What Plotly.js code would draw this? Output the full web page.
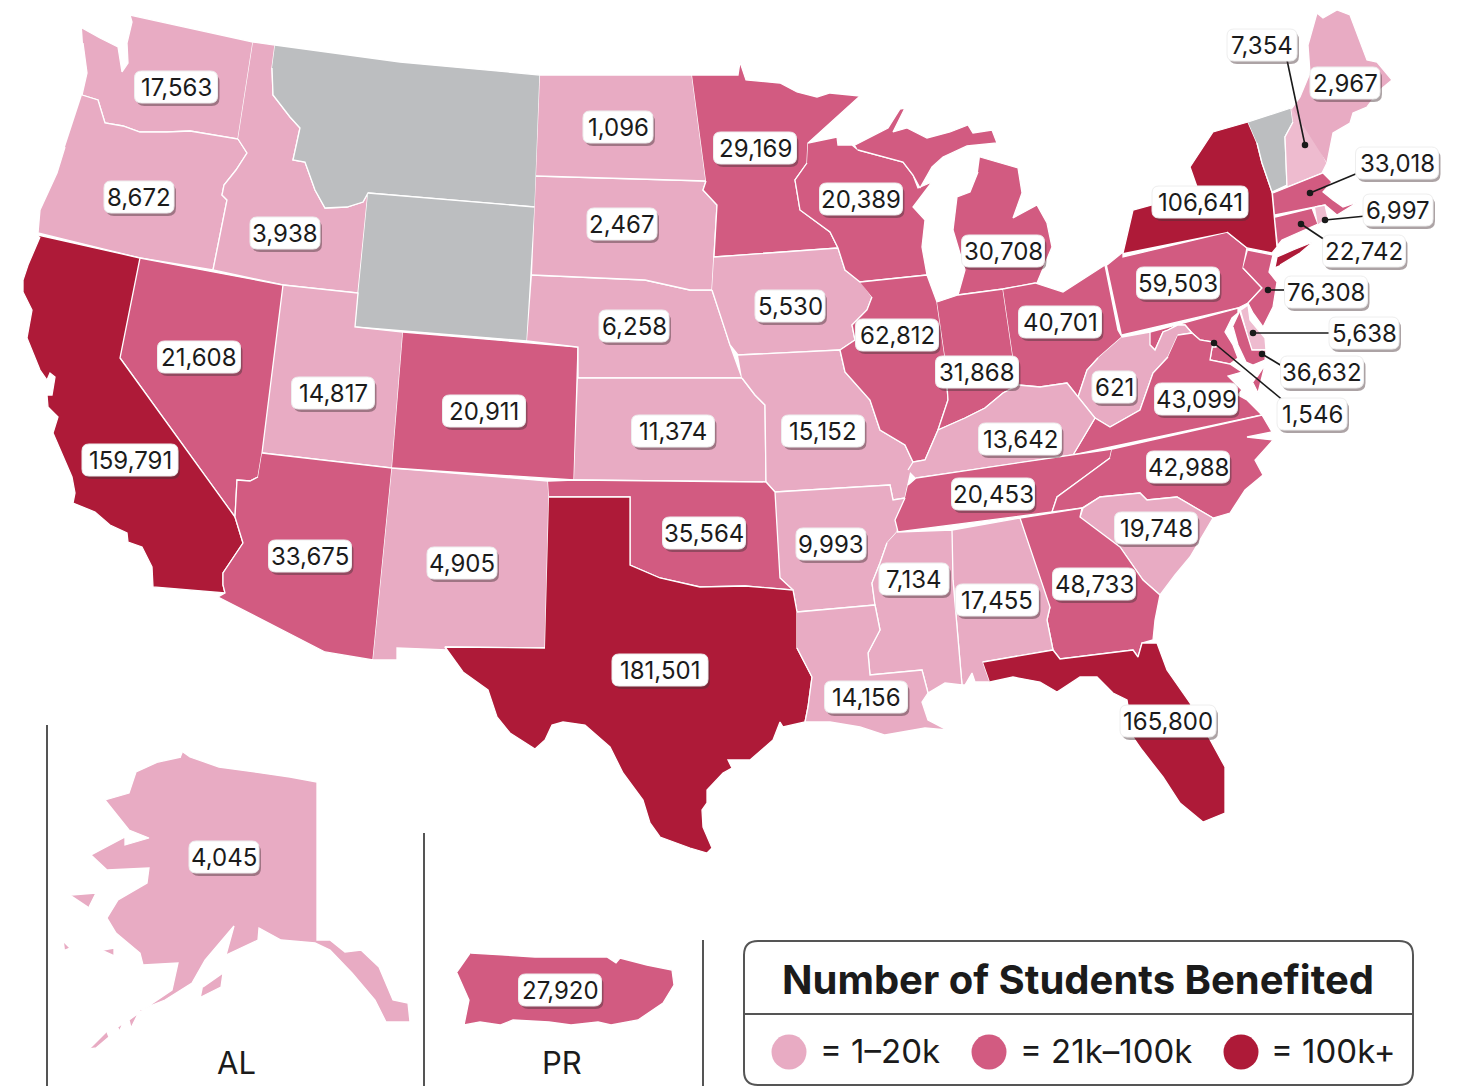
<!DOCTYPE html>
<html><head><meta charset="utf-8">
<script src="https://cdn.plot.ly/plotly-3.0.1.min.js"></script>
<style>html,body{margin:0;padding:0;background:#fff}#chart{width:1457px;height:1086px}</style>
</head><body><div id="chart"></div>
<script>
// ---------- data ----------
const stateCodes = ["WA","OR","ID","MT","WY","UT","NV","CA","AZ","NM","CO","NE","KS","SD","ND","MN","IA","MO","AR","OK","TX","WI","MI","IL","IN","OH","PA","NY","VT","NH","ME","MA","CT","RI","NJ","DE","MD","DC","WV","VA","KY","TN","NC","SC","GA","AL","MS","LA","FL","AK","PR"];
const students = [17563,8672,3938,null,null,14817,21608,159791,33675,4905,20911,6258,11374,2467,1096,29169,5530,15152,9993,35564,181501,20389,30708,62812,31868,40701,59503,106641,null,7354,2967,33018,22742,6997,76308,5638,36632,1546,621,43099,13642,20453,42988,19748,48733,17455,7134,14156,165800,4045,27920];
const labelX = [176,139,285,null,null,333,199,130,310,462,484,634,673,622,618,755,790,823,831,704,660,861,1003,897,977,1060,1178,1200,null,1262,1345,1397,1364,1398,1326,1364,1322,1312,1114,1196,1020,993,1188,1156,1094,997,914,866,1168,224,560];
const labelY = [87,197,233,null,null,393,357,460,556,563,411,326,431,224,127,148,306,431,544,533,670,199,251,335,372,322,283,202,null,45,83,163,251,210,292,333,372,414,387,399,439,494,467,528,584,600,579,697,721,857,990];
const paleStates = ["NH","DE","RI","DC"];
const leaderStates = ["NH","MA","RI","CT","NJ","DE","MD","DC"];
const leaderDotX = [1305,1310,1325,1301,1268,1253,1262,1214];
const leaderDotY = [145,193,220,224,290,333,354,343];
const leaderEndX = [1287,1358,1366,1325,1290,1330,1282,1285];
const leaderEndY = [60,173,216,240,290,333,366,402];
const tierColors = {none:"#bcbec0", pale:"#eebbcf", low:"#e8abc3", mid:"#d25b81", high:"#ae1a38"};
const legendTitle = "Number of Students Benefited";
const legendLabels = ["= 1–20k","= 21k–100k","= 100k+"];
const insetNames = ["AL","PR"];

// ---------- outlines (x,y pairs; null separates islands) ----------
const outlineWA=[82,28,100,38,118,47,122,72,128,63,127,43,132,22,130,15,253,42,238,139,190,131,167,132,140,132,123,126,105,123,98,100,82,95,87,73,83,43];
const outlineOR=[82,95,98,100,105,123,123,126,140,132,167,132,190,131,238,139,247,153,236,170,224,185,222,195,227,200,213,270,140,258,38,233,40,210,57,173,65,147];
const outlineID=[253,42,275,45,272,68,273,95,290,117,300,128,293,160,305,162,315,190,325,208,347,207,363,202,368,193,358,293,283,285,213,270,227,200,222,195,224,185,236,170,247,153,238,139];
const outlineMT=[275,45,400,62,540,75,535,207,368,193,363,202,347,207,325,208,315,190,305,162,293,160,300,128,290,117,273,95,272,68];
const outlineWY=[368,193,535,207,527,341,355,327];
const outlineUT=[283,285,358,293,355,327,403,332,392,468,262,453];
const outlineNV=[140,258,283,285,262,453,258,477,250,481,237,480,235,517,120,358];
const outlineCA=[38,235,140,258,120,358,235,517,243,543,223,573,223,585,225,593,153,587,152,567,142,547,128,542,127,533,110,525,95,512,73,503,75,493,72,477,53,433,58,417,48,407,47,395,52,395,55,377,50,373,47,380,40,370,27,338,32,310,23,292,23,280,28,265,40,237];
const outlineAZ=[262,453,392,468,373,660,325,652,218,597,225,593,223,585,223,573,243,543,235,517,237,480,250,481,258,477];
const outlineNM=[392,468,548,481,549,497,545,648,445,647,447,650,397,648,397,660,373,660];
const outlineCO=[403,332,578,347,574,480,392,468];
const outlineNE=[532,275,645,280,690,290,712,290,722,320,730,345,742,378,578,378,578,347,527,341];
const outlineKS=[578,378,742,378,755,395,765,405,766,482,574,480];
const outlineSD=[536,176,706,181,703,190,717,205,714,255,712,290,690,290,645,280,532,275];
const outlineND=[540,75,692,75,706,181,536,176];
const outlineMN=[692,75,738,75,740,62,746,80,780,83,797,92,817,97,830,93,860,96,837,117,808,143,807,163,795,180,800,210,830,232,838,248,714,257,717,205,703,190,706,181];
const outlineIA=[714,257,838,248,845,270,860,280,872,297,867,310,852,325,855,340,840,350,738,355,730,345,722,320,712,290];
const outlineMO=[738,355,840,350,845,372,870,400,880,430,905,445,913,462,905,498,893,500,890,485,775,492,766,482,765,405,755,395,742,378];
const outlineAR=[775,492,890,485,893,500,905,498,897,532,887,543,880,563,872,583,875,605,797,612,793,590,780,578];
const outlineOK=[548,481,574,480,766,482,775,492,780,578,793,590,745,586,700,587,660,578,630,565,630,497,549,497];
const outlineTX=[549,497,630,497,630,565,660,578,700,587,745,586,793,590,797,612,797,648,812,677,808,707,805,722,783,727,780,722,773,740,750,760,728,760,732,768,723,773,707,790,707,803,702,810,703,827,712,848,707,853,690,848,660,837,650,823,643,800,623,773,610,747,585,725,563,722,552,725,545,740,535,749,510,733,497,717,488,690,463,672,445,647,545,648];
const outlineWI=[808,143,837,137,838,145,852,145,858,150,903,162,913,175,918,188,932,182,913,207,925,220,922,247,927,275,860,282,845,270,838,248,830,232,800,210,795,180,807,163];
const outlineMI=[855,145,888,128,900,109,905,108,893,132,907,128,927,138,950,132,968,125,973,133,992,130,997,143,967,146,943,157,932,167,920,188,913,175,903,162,858,150,null,980,157,1018,168,1022,193,1013,218,1037,205,1047,223,1052,247,1037,283,1003,289,958,295,965,270,953,230,957,197,970,192,978,172];
const outlineIL=[860,282,927,275,937,302,945,357,948,400,938,430,925,460,913,462,905,445,880,430,870,400,845,372,840,350,855,340,852,325,867,310,872,297];
const outlineIN=[937,302,958,295,1003,289,1013,357,1018,385,1003,393,985,408,965,418,938,430,948,400,945,357];
const outlineOH=[1003,289,1035,283,1063,292,1105,265,1118,330,1122,337,1098,358,1087,370,1078,397,1067,383,1040,387,1018,385,1013,357];
const outlinePA=[1107,265,1123,252,1123,257,1227,232,1247,248,1243,268,1262,288,1248,303,1238,308,1122,335];
const outlineNY=[1123,253,1133,210,1152,205,1197,187,1190,167,1213,132,1248,122,1257,143,1262,163,1272,192,1277,247,1272,253,1247,248,1227,232,null,1275,267,1277,257,1293,250,1313,242,1300,253,1280,265];
const outlineVT=[1248,122,1291,108,1293,122,1285,137,1287,185,1272,192,1262,163,1257,143];
const outlineNH=[1291,108,1300,110,1327,163,1322,173,1287,187,1285,137,1293,122];
const outlineME=[1292,108,1300,97,1310,73,1308,45,1317,13,1323,18,1337,10,1350,15,1367,60,1377,62,1392,80,1380,90,1367,107,1353,113,1350,123,1333,133,1327,163];
const outlineMA=[1273,193,1323,173,1332,182,1323,192,1333,200,1343,207,1358,202,1343,211,1337,215,1325,205,1315,207,1275,215];
const outlineCT=[1275,217,1312,208,1318,224,1282,240,1278,245];
const outlineRI=[1315,207,1325,205,1328,218,1318,225];
const outlineNJ=[1248,250,1273,255,1269,272,1277,282,1273,307,1263,327,1253,313,1248,303,1262,288,1243,268];
const outlineDE=[1241,310,1248,305,1250,320,1265,338,1266,350,1252,350];
const outlineMD=[1150,332,1238,308,1238,313,1232,318,1225,332,1233,345,1238,358,1230,364,1210,360,1213,342,1200,340,1192,333,1185,325,1178,325,1168,330,1163,332,1155,350,1150,345,null,1240,312,1252,350,1266,350,1265,360,1253,365,1246,362,1238,345,1233,327];
const outlineDC=[1211,342,1216,342,1216,347,1211,347];
const outlineWV=[1122,337,1150,332,1150,345,1155,350,1163,332,1168,330,1178,325,1185,325,1192,333,1178,335,1168,357,1153,373,1140,410,1110,427,1095,418,1078,397,1087,370,1098,358];
const outlineVA=[1178,335,1192,333,1200,340,1213,342,1210,360,1230,364,1242,372,1228,376,1242,390,1238,395,1247,400,1262,415,1073,455,1095,418,1110,427,1140,410,1153,373,1168,357,null,1257,377,1265,365,1258,393,1253,383];
const outlineKY=[916,478,1073,455,1095,418,1078,397,1067,383,1040,387,1018,385,1003,393,985,408,965,418,938,430,925,460,913,462,908,470];
const outlineTN=[908,485,916,478,1112,449,1110,458,1083,478,1057,497,1052,512,898,532,895,520,905,498];
const outlineNC=[1112,449,1262,415,1272,432,1247,437,1273,440,1255,460,1263,475,1245,490,1230,513,1213,518,1177,497,1147,500,1140,493,1100,497,1082,508,1052,512,1057,497,1083,478,1110,458];
const outlineSC=[1080,517,1083,508,1100,497,1140,493,1147,500,1177,497,1213,518,1190,557,1175,575,1160,595,1143,580,1120,547];
const outlineGA=[1020,518,1052,513,1082,508,1080,517,1120,547,1143,580,1160,595,1155,620,1153,640,1142,643,1138,657,1133,650,1060,659,1053,650,1047,620,1050,607];
const outlineAL=[952,530,1020,518,1050,607,1047,620,1053,650,983,662,990,682,975,682,972,673,965,685,962,685,953,580];
const outlineMS=[897,532,952,530,953,580,962,685,945,683,928,693,922,670,870,675,868,653,880,630,875,605,872,583,880,563,887,543];
const outlineLA=[797,612,875,605,880,630,868,653,870,675,922,670,928,693,922,702,928,720,947,730,925,728,897,733,885,735,860,727,830,722,805,722,808,707,812,677,797,648];
const outlineFL=[983,662,1053,650,1060,659,1133,650,1138,657,1142,643,1157,643,1167,670,1190,703,1210,740,1225,767,1225,813,1203,822,1180,803,1163,777,1142,750,1133,737,1127,700,1113,693,1097,677,1080,677,1057,692,1040,682,1013,677,990,682];
const outlineAK=[183,752,190,757,219,767,254,772,290,777,317,782,317,940,330,940,345,952,361,950,379,967,393,1000,408,1003,410,1022,386,1022,375,1000,352,973,330,950,315,943,281,940,259,928,258,940,226,955,234,926,205,960,192,983,165,1000,140,1010,131,1028,129,1020,147,1007,172,990,178,963,143,965,140,953,116,933,107,918,118,900,147,883,149,868,107,870,91,855,125,837,125,845,149,838,129,830,105,800,129,793,136,772,158,762,181,757,null,71,895,96,893,89,907,null,103,950,114,948,114,955,null,64,942,70,948,65,950,null,203,987,223,973,221,987,201,997,null,107,1032,109,1037,96,1048,90,1049,null,118,1027,123,1023,120,1030];
const outlinePR=[471,953,504,955,535,957,607,957,616,963,620,958,647,965,672,970,674,985,663,1003,638,1020,611,1025,598,1022,571,1025,549,1022,513,1020,500,1025,480,1022,464,1025,469,1000,457,973];
const outlines=[outlineWA,outlineOR,outlineID,outlineMT,outlineWY,outlineUT,outlineNV,outlineCA,outlineAZ,outlineNM,outlineCO,outlineNE,outlineKS,outlineSD,outlineND,outlineMN,outlineIA,outlineMO,outlineAR,outlineOK,outlineTX,outlineWI,outlineMI,outlineIL,outlineIN,outlineOH,outlinePA,outlineNY,outlineVT,outlineNH,outlineME,outlineMA,outlineCT,outlineRI,outlineNJ,outlineDE,outlineMD,outlineDC,outlineWV,outlineVA,outlineKY,outlineTN,outlineNC,outlineSC,outlineGA,outlineAL,outlineMS,outlineLA,outlineFL,outlineAK,outlinePR];

// ---------- build ----------
function fillFor(code,v){
  if(v===null) return tierColors.none;
  if(paleStates.includes(code)) return tierColors.pale;
  if(v<20000) return tierColors.low;
  if(v<=100000) return tierColors.mid;
  return tierColors.high;
}
function toXY(o){
  const x=[],y=[];
  for(let i=0;i<o.length;){
    if(o[i]===null){x.push(null);y.push(null);i++;}
    else{x.push(o[i]);y.push(o[i+1]);i+=2;}
  }
  return {x,y};
}
const traces=[];
stateCodes.forEach((c,i)=>{
  const p=toXY(outlines[i]);
  traces.push({type:"scatter",mode:"lines",x:p.x,y:p.y,fill:"toself",fillcolor:fillFor(c,students[i]),
    line:{color:"#ffffff",width:1.3},name:c,hoverinfo:"skip",showlegend:false});
});
leaderStates.forEach((c,i)=>{
  traces.push({type:"scatter",mode:"lines",x:[leaderDotX[i],leaderEndX[i]],y:[leaderDotY[i],leaderEndY[i]],
    line:{color:"#1a1a1a",width:1.6},hoverinfo:"skip",showlegend:false});
});
traces.push({type:"scatter",mode:"markers",x:leaderDotX,y:leaderDotY,marker:{color:"#1a1a1a",size:6.5},hoverinfo:"skip",showlegend:false});
const legendDotX=[789,989,1241], legendDotY=[1052,1052,1052];
traces.push({type:"scatter",mode:"markers",x:legendDotX,y:legendDotY,
  marker:{size:35,color:[tierColors.low,tierColors.mid,tierColors.high],line:{width:0}},hoverinfo:"skip",showlegend:false});

function roundRect(x0,y0,x1,y1,r){
  return `M${x0+r},${y0} L${x1-r},${y0} Q${x1},${y0} ${x1},${y0+r} L${x1},${y1-r} Q${x1},${y1} ${x1-r},${y1} L${x0+r},${y1} Q${x0},${y1} ${x0},${y1-r} L${x0},${y0+r} Q${x0},${y0} ${x0+r},${y0} Z`;
}
const shapes=[], annotations=[];
const FONT="Inter, 'Liberation Sans', sans-serif";
stateCodes.forEach((c,i)=>{
  if(students[i]===null) return;
  const t=students[i].toLocaleString("en-US");
  const w=13*t.length+5, h=32, cx=labelX[i], cy=labelY[i];
  shapes.push({type:"path",xref:"x",yref:"y",layer:"above",path:roundRect(cx-w/2+2,cy-h/2+3,cx+w/2+2,cy+h/2+3,8),fillcolor:"rgba(70,50,55,0.45)",line:{width:0}});
  shapes.push({type:"path",xref:"x",yref:"y",layer:"above",path:roundRect(cx-w/2,cy-h/2,cx+w/2,cy+h/2,7),fillcolor:"#ffffff",line:{color:"#eeeeee",width:1}});
  annotations.push({x:cx,y:cy,xref:"x",yref:"y",text:t,showarrow:false,xanchor:"center",yanchor:"middle",font:{family:FONT,size:24,color:"#1b1b1b"}});
});
[[47,725],[424,833],[703,940]].forEach(d=>shapes.push({type:"line",xref:"x",yref:"y",x0:d[0],x1:d[0],y0:d[1],y1:1086,line:{color:"#555555",width:2}}));
shapes.push({type:"path",xref:"x",yref:"y",path:roundRect(744,941,1413,1085,14),fillcolor:"rgba(0,0,0,0)",line:{color:"#555555",width:2}});
shapes.push({type:"line",xref:"x",yref:"y",x0:744,x1:1413,y0:1014,y1:1014,line:{color:"#555555",width:2}});
annotations.push({x:1078,y:979,xref:"x",yref:"y",text:"<b>"+legendTitle+"</b>",showarrow:false,xanchor:"center",yanchor:"middle",font:{family:FONT,size:40,color:"#1b1b1b"}});
[818,1018,1269].forEach((x,i)=>annotations.push({x:x,y:1051,xref:"x",yref:"y",text:legendLabels[i],showarrow:false,xanchor:"left",yanchor:"middle",font:{family:FONT,size:33,color:"#1b1b1b"}}));
[236,562].forEach((x,i)=>annotations.push({x:x,y:1062,xref:"x",yref:"y",text:insetNames[i],showarrow:false,xanchor:"center",yanchor:"middle",font:{family:FONT,size:31,color:"#1b1b1b"}}));

Plotly.newPlot("chart",traces,{
  width:1457,height:1086,margin:{l:0,r:0,t:0,b:0},paper_bgcolor:"#fff",plot_bgcolor:"#fff",showlegend:false,
  xaxis:{range:[0,1457],visible:false,fixedrange:true},
  yaxis:{range:[1086,0],visible:false,fixedrange:true},
  shapes:shapes,annotations:annotations
},{displayModeBar:false,staticPlot:true});
</script></body></html>
